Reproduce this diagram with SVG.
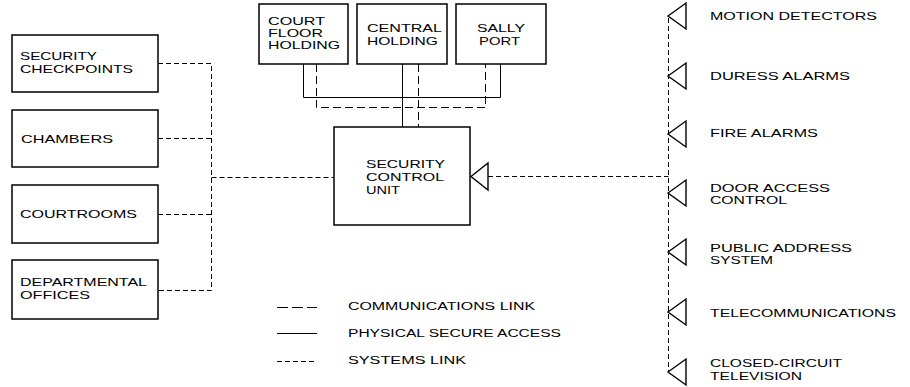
<svg xmlns="http://www.w3.org/2000/svg" width="910" height="387" viewBox="0 0 910 387">
<style>
  .box{fill:#fff;stroke:#000;stroke-width:1.5}
  .t{font-family:"Liberation Sans",Arial,sans-serif;font-size:11px;fill:#000}
  .r{font-family:"Liberation Sans",Arial,sans-serif;font-size:10px;fill:#000}
  .sys{fill:none;stroke:#000;stroke-width:1;stroke-dasharray:5 3}
  .com{fill:none;stroke:#000;stroke-width:1;stroke-dasharray:8 4}
  .phy{fill:none;stroke:#000;stroke-width:1}
  .tri{fill:#fff;stroke:#000;stroke-width:1.4}
</style>
<rect width="910" height="387" fill="#fff"/>

<g id="connectors">
  <!-- left bus -->
  <polyline class="sys" points="158,63.5 211.5,63.5 211.5,290.5 158,290.5"/>
  <line class="sys" x1="158" y1="138.5" x2="211.5" y2="138.5"/>
  <line class="sys" x1="158" y1="214.5" x2="211.5" y2="214.5"/>
  <line class="sys" x1="211.5" y1="177.5" x2="334" y2="177.5"/>
  <!-- top physical -->
  <polyline class="phy" points="303.5,64 303.5,97.5 500.5,97.5 500.5,64"/>
  <line class="phy" x1="402.5" y1="64" x2="402.5" y2="127"/>
  <!-- top communications -->
  <polyline class="com" points="316.5,64 316.5,107.5 485.5,107.5 485.5,64"/>
  <line class="com" x1="418.5" y1="64" x2="418.5" y2="127"/>
  <!-- right bus -->
  <line class="sys" x1="488" y1="176.5" x2="668.5" y2="176.5"/>
  <line class="sys" x1="668.5" y1="18" x2="668.5" y2="372"/>
  <!-- legend -->
  <line class="com" x1="277" y1="307.5" x2="317" y2="307.5" style="stroke-dasharray:11 4"/>
  <line class="phy" x1="277" y1="333.5" x2="317" y2="333.5"/>
  <line class="sys" x1="277" y1="361.5" x2="317" y2="361.5"/>
</g>

<g id="security-checkpoints">
  <rect class="box" x="12" y="35" width="146" height="57"/>
  <text class="t" x="20" y="60" textLength="77" lengthAdjust="spacingAndGlyphs">SECURITY</text>
  <text class="t" x="20" y="73" textLength="113" lengthAdjust="spacingAndGlyphs">CHECKPOINTS</text>
</g>
<g id="chambers">
  <rect class="box" x="12" y="110" width="146" height="57"/>
  <text class="t" x="21" y="143" textLength="92" lengthAdjust="spacingAndGlyphs">CHAMBERS</text>
</g>
<g id="courtrooms">
  <rect class="box" x="12" y="185" width="146" height="58"/>
  <text class="t" x="20" y="218" textLength="117" lengthAdjust="spacingAndGlyphs">COURTROOMS</text>
</g>
<g id="departmental-offices">
  <rect class="box" x="12" y="260" width="146" height="59"/>
  <text class="t" x="20" y="286" textLength="127" lengthAdjust="spacingAndGlyphs">DEPARTMENTAL</text>
  <text class="t" x="20" y="299" textLength="70" lengthAdjust="spacingAndGlyphs">OFFICES</text>
</g>

<g id="court-floor-holding">
  <rect class="box" x="259" y="4" width="89" height="60"/>
  <text class="t" x="268" y="25" textLength="57" lengthAdjust="spacingAndGlyphs">COURT</text>
  <text class="t" x="268" y="37" textLength="55" lengthAdjust="spacingAndGlyphs">FLOOR</text>
  <text class="t" x="268" y="49" textLength="72" lengthAdjust="spacingAndGlyphs">HOLDING</text>
</g>
<g id="central-holding">
  <rect class="box" x="357" y="4" width="90" height="60"/>
  <text class="t" x="367" y="32" textLength="75" lengthAdjust="spacingAndGlyphs">CENTRAL</text>
  <text class="t" x="367" y="45" textLength="71" lengthAdjust="spacingAndGlyphs">HOLDING</text>
</g>
<g id="sally-port">
  <rect class="box" x="456" y="4" width="90" height="60"/>
  <text class="t" x="477" y="32" textLength="48" lengthAdjust="spacingAndGlyphs">SALLY</text>
  <text class="t" x="479" y="45" textLength="41" lengthAdjust="spacingAndGlyphs">PORT</text>
</g>

<g id="security-control-unit">
  <rect class="box" x="334" y="127" width="136" height="98"/>
  <text class="t" x="366" y="168" textLength="79" lengthAdjust="spacingAndGlyphs">SECURITY</text>
  <text class="t" x="366" y="181" textLength="78" lengthAdjust="spacingAndGlyphs">CONTROL</text>
  <text class="t" x="366" y="194" textLength="34" lengthAdjust="spacingAndGlyphs">UNIT</text>
  <polygon class="tri" points="471,176.5 488,163 488,190"/>
</g>

<g id="motion-detectors">
  <polygon class="tri" points="668,16 686,3 686,29"/>
  <text class="r" x="710" y="20" textLength="167" lengthAdjust="spacingAndGlyphs">MOTION DETECTORS</text>
</g>
<g id="duress-alarms">
  <polygon class="tri" points="668,76 686,63 686,89"/>
  <text class="r" x="710" y="80" textLength="140" lengthAdjust="spacingAndGlyphs">DURESS ALARMS</text>
</g>
<g id="fire-alarms">
  <polygon class="tri" points="668,134 686,121 686,147"/>
  <text class="r" x="710" y="137" textLength="108" lengthAdjust="spacingAndGlyphs">FIRE ALARMS</text>
</g>
<g id="door-access-control">
  <polygon class="tri" points="668,193 686,180 686,206"/>
  <text class="r" x="710" y="192" textLength="120" lengthAdjust="spacingAndGlyphs">DOOR ACCESS</text>
  <text class="r" x="710" y="204" textLength="77" lengthAdjust="spacingAndGlyphs">CONTROL</text>
</g>
<g id="public-address-system">
  <polygon class="tri" points="668,252 686,239 686,265"/>
  <text class="r" x="710" y="252" textLength="142" lengthAdjust="spacingAndGlyphs">PUBLIC ADDRESS</text>
  <text class="r" x="710" y="264" textLength="63" lengthAdjust="spacingAndGlyphs">SYSTEM</text>
</g>
<g id="telecommunications">
  <polygon class="tri" points="668,312 686,299 686,325"/>
  <text class="r" x="710" y="317" textLength="186" lengthAdjust="spacingAndGlyphs">TELECOMMUNICATIONS</text>
</g>
<g id="closed-circuit-television">
  <polygon class="tri" points="668,372 686,359 686,385"/>
  <text class="r" x="710" y="367" textLength="132" lengthAdjust="spacingAndGlyphs">CLOSED-CIRCUIT</text>
  <text class="r" x="710" y="380" textLength="92" lengthAdjust="spacingAndGlyphs">TELEVISION</text>
</g>

<g id="legend">
  <text class="r" x="348" y="310" textLength="187" lengthAdjust="spacingAndGlyphs">COMMUNICATIONS LINK</text>
  <text class="r" x="348" y="337" textLength="213" lengthAdjust="spacingAndGlyphs">PHYSICAL SECURE ACCESS</text>
  <text class="r" x="348" y="364" textLength="118" lengthAdjust="spacingAndGlyphs">SYSTEMS LINK</text>
</g>
</svg>
